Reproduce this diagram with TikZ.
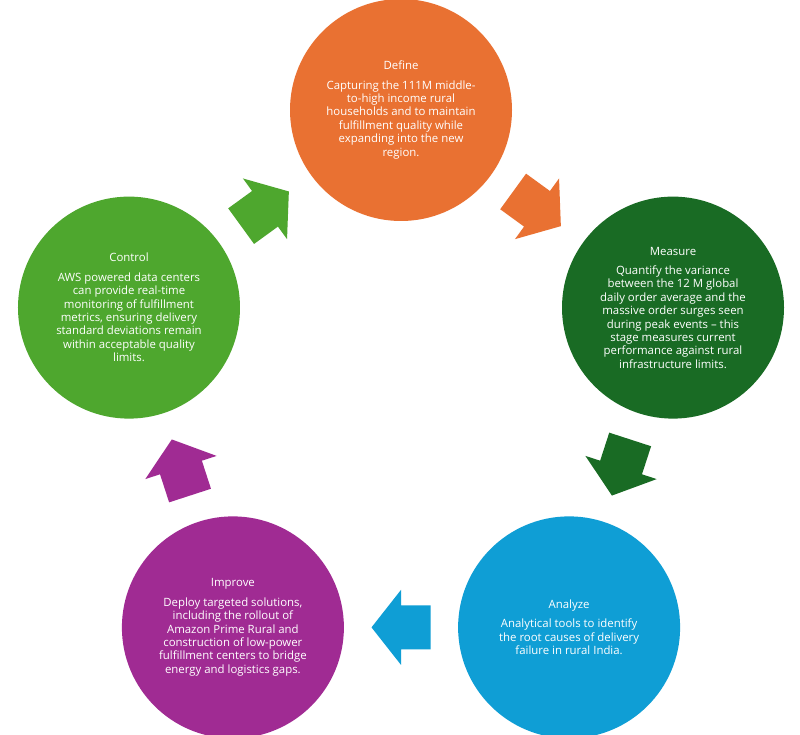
\documentclass[tikz,border=0pt]{standalone}
\usepackage{fontspec}
\setmainfont{Open Sans}
\usetikzlibrary{calc}
\definecolor{orangeC}{HTML}{E97132}
\definecolor{dgreenC}{HTML}{196B24}
\definecolor{blueC}{HTML}{0F9ED5}
\definecolor{purpleC}{HTML}{A02B93}
\definecolor{lgreenC}{HTML}{4EA72E}
\tikzset{
  stage/.style={circle, minimum size=222pt, inner sep=0pt, text=white, align=center,
    font=\fontsize{11.4}{13.4}\selectfont},
  cyc arrow/.pic={\path[pic actions] (-29.5,-22) -- (0,-22) -- (0,-37.5) -- (29.5,0) -- (0,37.5) -- (0,22) -- (-29.5,22) -- cycle;}
}
\begin{document}
\begin{tikzpicture}[x=1pt,y=1pt]
\useasboundingbox (0,0) rectangle (800,734);
\fill[white] (0,0) rectangle (800,734);
\clip (0,0) rectangle (800,734);
\coordinate (P) at (401,338);
\node[stage, fill=orangeC] (define) at ([shift={(90:286)}]P)
  {Define\\[6pt]Capturing the 111M middle-\\to-high income rural\\households and to maintain\\fulfillment quality while\\expanding into the new\\region.};
\node[stage, fill=dgreenC] (measure) at ([shift={(18:286)}]P)
  {Measure\\[6pt]Quantify the variance\\between the 12 M global\\daily order average and the\\massive order surges seen\\during peak events – this\\stage measures current\\performance against rural\\infrastructure limits.};
\node[stage, fill=blueC] (analyze) at ([shift={(-54:286)}]P)
  {Analyze\\[6pt]Analytical tools to identify\\the root causes of delivery\\failure in rural India.};
\node[stage, fill=purpleC] (improve) at ([shift={(234:286)}]P)
  {Improve\\[6pt]Deploy targeted solutions,\\including the rollout of\\Amazon Prime Rural and\\construction of low-power\\fulfillment centers to bridge\\energy and logistics gaps.};
\node[stage, fill=lgreenC] (control) at ([shift={(162:286)}]P)
  {Control\\[6pt]AWS powered data centers\\can provide real-time\\monitoring of fulfillment\\metrics, ensuring delivery\\standard deviations remain\\within acceptable quality\\limits.};
\pic[fill=orangeC, rotate=-36] at ($(define)!0.5!(measure)$) {cyc arrow};
\pic[fill=dgreenC, rotate=-108] at ($(measure)!0.5!(analyze)$) {cyc arrow};
\pic[fill=blueC, rotate=180] at ($(analyze)!0.5!(improve)$) {cyc arrow};
\pic[fill=purpleC, rotate=108] at ($(improve)!0.5!(control)$) {cyc arrow};
\pic[fill=lgreenC, rotate=36] at ($(control)!0.5!(define)$) {cyc arrow};
\end{tikzpicture}
\end{document}
